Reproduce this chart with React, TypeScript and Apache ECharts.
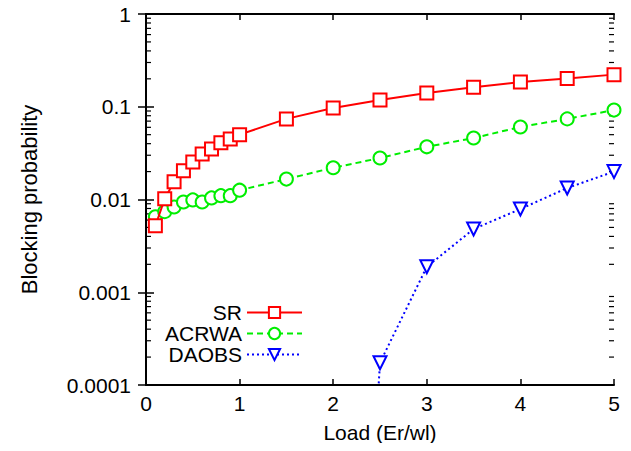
import React, { useEffect, useRef } from "react";
import * as echarts from "echarts";

const srLoad = [0.1, 0.2, 0.3, 0.4, 0.5, 0.6, 0.7, 0.8, 0.9, 1.0, 1.5, 2.0, 2.5, 3.0, 3.5, 4.0, 4.5, 5.0];
const srValues = [0.0052, 0.0102, 0.0155, 0.0204, 0.0254, 0.031, 0.035, 0.041, 0.045, 0.05, 0.074, 0.097, 0.118, 0.141, 0.162, 0.185, 0.202, 0.222];

const acrwaLoad = [0.1, 0.2, 0.3, 0.4, 0.5, 0.6, 0.7, 0.8, 0.9, 1.0, 1.5, 2.0, 2.5, 3.0, 3.5, 4.0, 4.5, 5.0];
const acrwaValues = [0.0065, 0.0074, 0.0083, 0.0094, 0.0099, 0.0094, 0.0104, 0.011, 0.011, 0.0126, 0.0166, 0.022, 0.028, 0.037, 0.046, 0.0605, 0.074, 0.092];

const daobsLoad = [2.0, 2.5, 3.0, 3.5, 4.0, 4.5, 5.0];
const daobsValues = [1e-12, 0.000174, 0.00188, 0.0048, 0.0079, 0.0133, 0.02];

const xTicks = [0, 1, 2, 3, 4, 5];
const yTickLabels = ["0.0001", "0.001", "0.01", "0.1", "1"];
const minorTickValues: number[] = [];
[0.0001, 0.001, 0.01, 0.1].forEach((d) => {
  for (let m = 2; m <= 9; m++) minorTickValues.push(+(d * m).toPrecision(3));
});

const FONT = "Liberation Sans, Arial, Helvetica, sans-serif";
const FS = 21;

export default function App() {
  const ref = useRef<HTMLDivElement>(null);
  useEffect(() => {
    if (!ref.current) return;
    const chart = echarts.init(ref.current, undefined, { renderer: "svg" });
    const pair = (xs: number[], ys: number[]) => xs.map((x, i) => [x, ys[i]]);
    const axisLineStyle = { color: "#000", width: 2 };
    chart.setOption({
      animation: false,
      backgroundColor: "#fff",
      textStyle: { fontFamily: FONT },
      grid: { left: 146, right: 17, top: 14, bottom: 66 },
      xAxis: [
        {
          type: "value",
          min: 0,
          max: 5,
          interval: 1,
          name: "Load (Er/wl)",
          nameLocation: "middle",
          nameGap: 37,
          nameTextStyle: { fontSize: FS, color: "#000", fontFamily: FONT },
          axisLine: { lineStyle: axisLineStyle },
          axisTick: { inside: true, length: 6, lineStyle: { color: "#000", width: 1.5 } },
          axisLabel: { fontSize: FS, color: "#000", margin: 8, fontFamily: FONT, formatter: (v: number) => (xTicks.includes(v) ? String(v) : "") },
          splitLine: { show: false },
        },
        {
          type: "value",
          position: "top",
          min: 0,
          max: 5,
          interval: 1,
          axisLine: { show: true, lineStyle: axisLineStyle },
          axisTick: { inside: true, length: 6, lineStyle: { color: "#000", width: 1.5 } },
          axisLabel: { show: false },
          splitLine: { show: false },
        },
      ],
      yAxis: [
        {
          type: "log",
          logBase: 10,
          min: 0.0001,
          max: 1,
          name: "Blocking probability",
          nameLocation: "middle",
          nameGap: 106,
          nameTextStyle: { fontSize: 22, color: "#000", fontFamily: FONT },
          axisLine: { lineStyle: axisLineStyle },
          axisTick: { inside: true, length: 8, lineStyle: { color: "#000", width: 1.5 } },
          axisLabel: {
            fontSize: FS,
            color: "#000",
            margin: 15,
            fontFamily: FONT,
            formatter: (v: number) => {
              const idx = Math.round(Math.log10(v)) + 4;
              return yTickLabels[idx] ?? "";
            },
          },
          splitLine: { show: false },
        },
        {
          type: "log",
          logBase: 10,
          min: 0.0001,
          max: 1,
          position: "right",
          axisLine: { show: true, lineStyle: axisLineStyle },
          axisTick: { inside: true, length: 8, lineStyle: { color: "#000", width: 1.5 } },
          axisLabel: { show: false },
          splitLine: { show: false },
        },
      ],
      legend: {
        orient: "vertical",
        align: "right",
        left: 160,
        top: 297,
        itemWidth: 55,
        itemHeight: 14,
        itemGap: 0,
        textStyle: { fontSize: FS, color: "#000", fontFamily: FONT, lineHeight: 20 },
        data: ["SR", "ACRWA", "DAOBS"],
      },
      series: [
        {
          name: "SR",
          type: "line",
          data: pair(srLoad, srValues),
          symbol: "emptyRect",
          symbolSize: 13,
          color: "#ff0000",
          lineStyle: { color: "#ff0000", width: 2, type: "solid" },
          itemStyle: { color: "#ff0000", borderWidth: 2 },
          z: 5,
        },
        {
          name: "ACRWA",
          type: "line",
          data: pair(acrwaLoad, acrwaValues),
          symbol: "emptyCircle",
          symbolSize: 13,
          color: "#00ee00",
          lineStyle: { color: "#00ee00", width: 2, type: [6, 4] },
          itemStyle: { color: "#00ee00", borderWidth: 2 },
          z: 4,
        },
        {
          name: "DAOBS",
          type: "line",
          data: pair(daobsLoad, daobsValues),
          symbol: "emptyTriangle",
          symbolRotate: 180,
          symbolSize: 13,
          color: "#0000ff",
          lineStyle: { color: "#0000ff", width: 2, type: [2, 3] },
          itemStyle: { color: "#0000ff", borderWidth: 2 },
          clip: true,
          z: 3,
        },
        {
          name: "minorTicks",
          type: "custom",
          silent: true,
          clip: false,
          data: minorTickValues.map((v) => [0, v]),
          renderItem: (params: any, api: any) => {
            const cs = params.coordSys;
            const pt = api.coord([0, api.value(1)]);
            const y = pt[1];
            const left = cs.x;
            const right = cs.x + cs.width;
            return {
              type: "group",
              children: [
                { type: "line", shape: { x1: left, y1: y, x2: left + 5, y2: y }, style: { stroke: "#000", lineWidth: 1.2 } },
                { type: "line", shape: { x1: right - 5, y1: y, x2: right, y2: y }, style: { stroke: "#000", lineWidth: 1.2 } },
              ],
            };
          },
          z: 2,
        },
      ],
    });
    return () => chart.dispose();
  }, []);
  return <div ref={ref} style={{ width: 631, height: 451, margin: -8 }} />;
}
